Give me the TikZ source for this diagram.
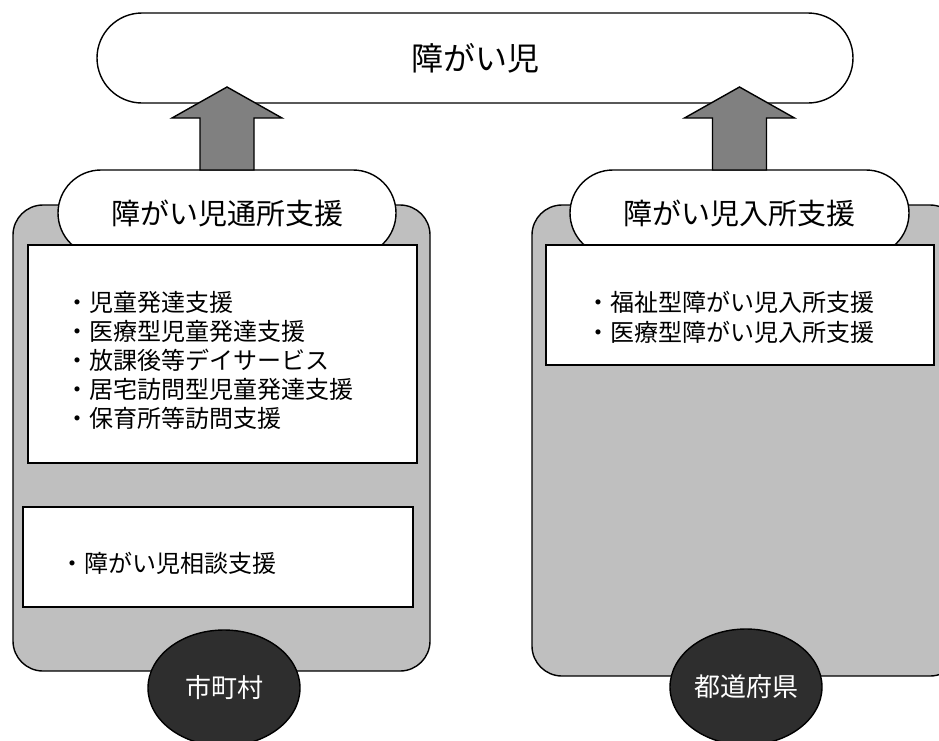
\documentclass[tikz,border=0pt]{standalone}
\usepackage{fontspec}
\setmainfont{Noto Sans CJK JP}
\usetikzlibrary{shapes.geometric}
\definecolor{panelgray}{HTML}{BFBFBF}
\definecolor{arrowgray}{HTML}{808080}
\definecolor{darkoval}{HTML}{2E2E2E}
\begin{document}
\begin{tikzpicture}[x=1pt,y=-1pt,
  base/.style={draw=black, line width=1.4pt, inner sep=0pt, outer sep=0pt},
  titlebox/.style={base, fill=white, rounded corners=45pt, minimum width=756pt, minimum height=90pt, font=\fontsize{32}{38}\selectfont},
  hdrbox/.style={base, fill=white, rounded corners=43pt, minimum height=86pt, font=\fontsize{29}{34}\selectfont},
  panelbox/.style={base, fill=panelgray, rounded corners=30pt},
  whitebox/.style={base, fill=white},
  listtext/.style={inner sep=0pt, anchor=west, align=left, font=\fontsize{24}{29}\selectfont},
  ovalbox/.style={base, ellipse, fill=darkoval, text=white, minimum width=152pt, minimum height=116pt, font=\fontsize{26}{30}\selectfont},
  fatarrow/.style={draw=black, line width=1.4pt, fill=arrowgray, line join=miter}
]
\useasboundingbox (0,0) rectangle (939,740);
\clip (0,0) rectangle (939,740);
% title
\node[titlebox] (title) at (475,58) {障がい児};
% panels
\node[panelbox, minimum width=417pt, minimum height=466pt] (panelL) at (221.5,438) {};
\node[panelbox, minimum width=428pt, minimum height=471pt] (panelR) at (746,440.5) {};
% headers
\node[hdrbox, minimum width=338pt] (hdrL) at (227,213) {\raisebox{2pt}{障がい児通所支援}};
\node[hdrbox, minimum width=339pt] (hdrR) at (739.5,213) {\raisebox{2pt}{障がい児入所支援}};
% white boxes
\node[whitebox, minimum width=389pt, minimum height=218pt] (boxL1) at (222.5,354) {};
\node[whitebox, minimum width=390pt, minimum height=100pt] (boxL2) at (218,557) {};
\node[whitebox, minimum width=388pt, minimum height=120pt] (boxR) at (740,305) {};
% lists
\node[listtext] (listL) at (65,360) {・児童発達支援\\・医療型児童発達支援\\・放課後等デイサービス\\・居宅訪問型児童発達支援\\・保育所等訪問支援};
\node[listtext] (listL2) at (60,563) {・障がい児相談支援};
\node[listtext, font=\fontsize{24}{30}\selectfont] (listR) at (586,317) {・福祉型障がい児入所支援\\・医療型障がい児入所支援};
% ovals
\node[ovalbox] (ovalL) at (224,688) {市町村};
\node[ovalbox] (ovalR) at (746,687) {都道府県};
% arrows
\draw[fatarrow] (hdrL.north) ++(-27,0) -- ++(0,-52) -- ++(-28,0) -- ++(55,-31) -- ++(55,31) -- ++(-28,0) -- ++(0,52) -- cycle;
\draw[fatarrow] (hdrR.north) ++(-27,0) -- ++(0,-52) -- ++(-28,0) -- ++(55,-31) -- ++(55,31) -- ++(-28,0) -- ++(0,52) -- cycle;
\end{tikzpicture}
\end{document}
